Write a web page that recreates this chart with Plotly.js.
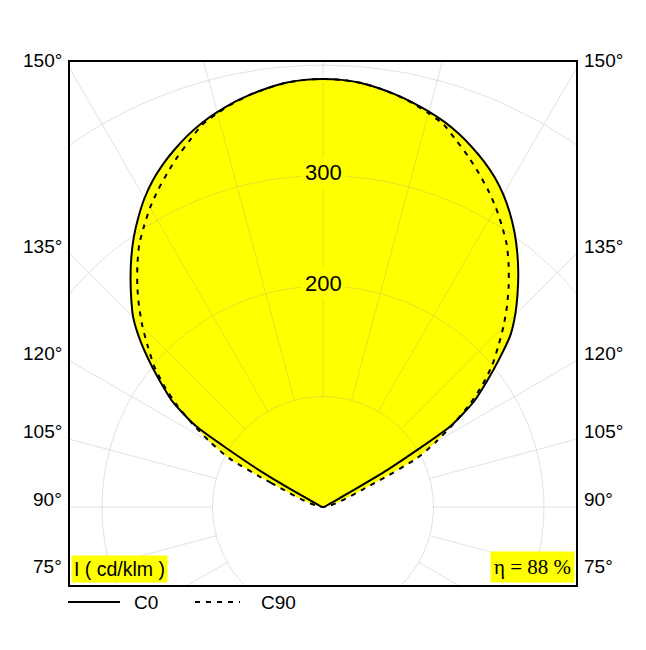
<!DOCTYPE html>
<html>
<head>
<meta charset="utf-8">
<script src="https://cdn.plot.ly/plotly-3.0.1.min.js"></script>
<style>
  html, body { margin: 0; padding: 0; background: #fff; }
  #chart { width: 646px; height: 650px; }
</style>
</head>
<body>
<div id="chart"></div>
<script>
// ---- data (luminous intensity, cd/klm) ----
const gamma = [90, 112.5, 115, 117.5, 120, 122.5, 125, 127.5, 130, 132.5, 135, 137.5, 140, 142.5, 145, 147.5, 150, 152.5, 155, 157.5, 160, 162.5, 165, 167.5, 170, 172.5, 175, 177.5, 180];
const C0   = [0, 0, 0, 8, 67, 138, 167, 187, 208, 230, 246, 260.5, 275, 289, 302.5, 315, 326.5, 336.5, 345, 352.5, 359.5, 365.5, 370.5, 375, 379, 382.5, 385.5, 387, 387.5];
const C180 = [0, 0, 0, 8, 66, 136, 166, 185, 205, 225, 243, 257, 271, 285, 298.5, 311, 323, 333.5, 342.5, 350.5, 358, 364.5, 370, 375, 379, 382.5, 385.5, 387, 387.5];
const C90  = [0, 0, 52, 96, 118, 140, 162, 182, 200, 215, 231, 246.5, 261.5, 276, 290, 301.5, 313, 323.5, 333.5, 343.5, 353, 363, 369, 374.5, 379, 382.5, 385.5, 387, 387.5];
const C270 = [0, 0, 52, 96, 118, 140, 162, 182, 200, 215, 231, 246.5, 261.5, 276, 290, 301.5, 313, 323.5, 333.5, 343.5, 353, 363, 369, 374.5, 379, 382.5, 385.5, 387, 387.5];
const gridRadii = [100, 200, 300, 400];
const radialStep = 15;
const radialLabels = [200, 300];
const angleLabels = [150, 135, 120, 105, 90, 75];
const seriesNames = ['C0', 'C90'];
const unitText = 'I ( cd/klm )';
const etaText = 'η = 88 %';

// ---- geometry helpers ----
const XR = [-229, 229];
const YR = [-70.5, 402.8];
const rad = d => d * Math.PI / 180;

function curve(leftVals, rightVals) {
  const x = [], y = [];
  const push = (a, b) => {
    const n = x.length;
    if (n && Math.abs(x[n - 1] - a) < 1e-9 && Math.abs(y[n - 1] - b) < 1e-9) return;
    x.push(a); y.push(b);
  };
  for (let i = 0; i < gamma.length; i++) {
    const t = rad(gamma[i]);
    push(-leftVals[i] * Math.sin(t), -leftVals[i] * Math.cos(t));
  }
  for (let i = gamma.length - 1; i >= 0; i--) {
    const t = rad(gamma[i]);
    push(rightVals[i] * Math.sin(t), -rightVals[i] * Math.cos(t));
  }
  return {x, y};
}

const cA = curve(C180, C0);
const cB = curve(C270, C90);

// grid
const gx = [], gy = [];
gridRadii.forEach(r => {
  for (let a = 0; a <= 360; a += 2) { gx.push(r * Math.sin(rad(a))); gy.push(-r * Math.cos(rad(a))); }
  gx.push(null); gy.push(null);
});
for (let a = 0; a < 360; a += radialStep) {
  const r0 = gridRadii[0], r1 = 800;
  gx.push(r0 * Math.sin(rad(a)), r1 * Math.sin(rad(a)), null);
  gy.push(-r0 * Math.cos(rad(a)), -r1 * Math.cos(rad(a)), null);
}

const YEL = '#ffff00';
const SM = 0.6;
const traces = [
  {x: cA.x, y: cA.y, mode: 'lines', fill: 'toself', fillcolor: YEL, line: {width: 0, color: YEL, shape: 'spline', smoothing: SM}, hoverinfo: 'skip', showlegend: false},
  {x: cB.x, y: cB.y, mode: 'lines', fill: 'toself', fillcolor: YEL, line: {width: 0, color: YEL, shape: 'spline', smoothing: SM}, hoverinfo: 'skip', showlegend: false},
  {x: gx, y: gy, mode: 'lines', line: {width: 1, color: 'rgba(150,150,150,0.28)'}, hoverinfo: 'skip', showlegend: false},
  {x: cB.x, y: cB.y, mode: 'lines', name: seriesNames[1], line: {width: 2, color: '#000', dash: '5px,6px', shape: 'spline', smoothing: SM}, showlegend: false},
  {x: cA.x, y: cA.y, mode: 'lines', name: seriesNames[0], line: {width: 2, color: '#000', shape: 'spline', smoothing: SM}, showlegend: false}
];

const SANS = 'Liberation Sans, Arial, sans-serif';
const SERIF = "'Liberation Serif', 'Times New Roman', 'DejaVu Serif', serif";
const annotations = [];
radialLabels.forEach(r => annotations.push({
  x: 0, y: r, xref: 'x', yref: 'y', text: String(r), showarrow: false,
  font: {family: SANS, size: 22, color: '#000'}, bgcolor: YEL, borderpad: 3, yshift: 3
}));
angleLabels.forEach(a => {
  const y = XR[1] * Math.tan(rad(a - 90));
  annotations.push({x: 0, y: y, xref: 'paper', yref: 'y', text: a + '°', showarrow: false, xanchor: 'right', yanchor: 'middle', xshift: -6, yshift: 8, font: {family: SANS, size: 19, color: '#000'}});
  annotations.push({x: 1, y: y, xref: 'paper', yref: 'y', text: a + '°', showarrow: false, xanchor: 'left', yanchor: 'middle', xshift: 6, yshift: 8, font: {family: SANS, size: 19, color: '#000'}});
});
annotations.push({x: 0, y: 0, xref: 'paper', yref: 'paper', text: unitText, showarrow: false, xanchor: 'left', yanchor: 'bottom', xshift: 1, yshift: 2, bgcolor: YEL, borderpad: 2, font: {family: SANS, size: 19.5, color: '#000'}});
annotations.push({x: 1, y: 0, xref: 'paper', yref: 'paper', text: etaText, showarrow: false, xanchor: 'right', yanchor: 'bottom', xshift: -1, yshift: 2, bgcolor: YEL, borderpad: 3, font: {family: SERIF, size: 21, color: '#000'}});

// legend (below frame)
const L = 70, PW = 506, T = 62, PH = 523;
const px = v => (v - L) / PW;
const py = v => (T + PH - v) / PH;
const legY = py(602);
const shapes = [
  {type: 'line', xref: 'paper', yref: 'paper', x0: px(68), x1: px(120), y0: legY, y1: legY, line: {color: '#000', width: 2}},
  {type: 'line', xref: 'paper', yref: 'paper', x0: px(195), x1: px(240), y0: legY, y1: legY, line: {color: '#000', width: 2, dash: '5px,6px'}}
];
annotations.push({x: px(132), y: legY, xref: 'paper', yref: 'paper', text: seriesNames[0], showarrow: false, xanchor: 'left', yanchor: 'middle', font: {family: SANS, size: 19, color: '#000'}});
annotations.push({x: px(259), y: legY, xref: 'paper', yref: 'paper', text: seriesNames[1], showarrow: false, xanchor: 'left', yanchor: 'middle', font: {family: SANS, size: 19, color: '#000'}});

const axisCommon = {showgrid: false, zeroline: false, showticklabels: false, ticks: '', showline: true, mirror: true, linecolor: '#000', linewidth: 2, fixedrange: true};
const layout = {
  width: 646, height: 650,
  margin: {l: 70, r: 70, t: 62, b: 65},
  paper_bgcolor: '#fff', plot_bgcolor: '#fff',
  xaxis: Object.assign({range: XR}, axisCommon),
  yaxis: Object.assign({range: YR}, axisCommon),
  showlegend: false,
  annotations: annotations,
  shapes: shapes
};
Plotly.newPlot('chart', traces, layout, {displayModeBar: false, staticPlot: true});
</script>
</body>
</html>
